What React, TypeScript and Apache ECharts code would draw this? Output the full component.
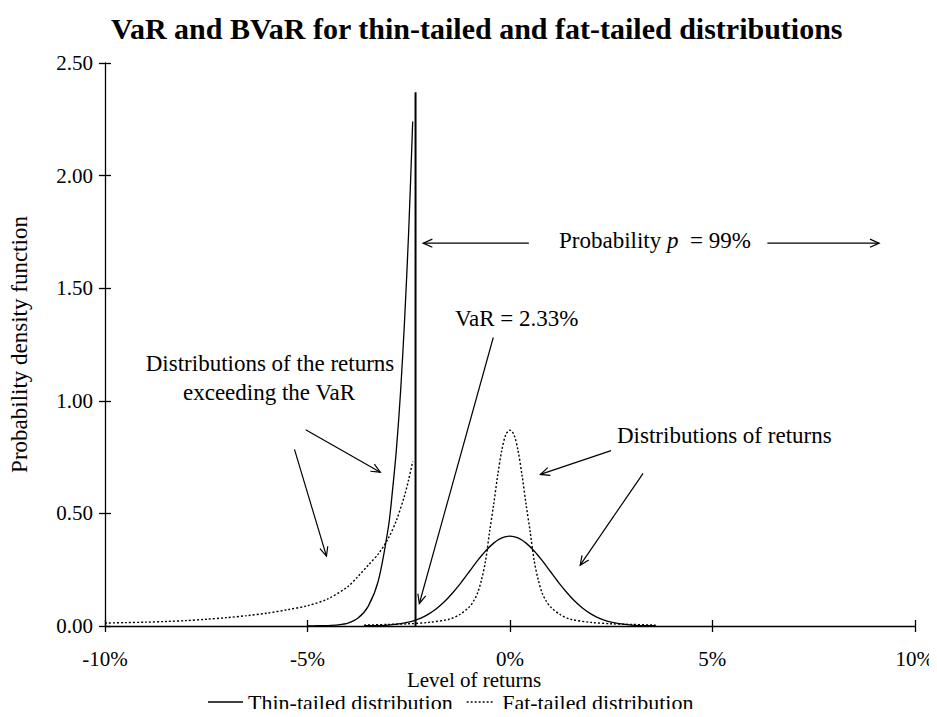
import React, { useEffect, useRef } from "react";
import * as echarts from "echarts";

// ---------- data (returns in %, density) ----------
const xTickValues = [-10, -5, 0, 5, 10];
const yTickValues = [0, 0.5, 1, 1.5, 2, 2.5];

// thin-tailed distribution of returns
const thinX = [-3.6, -3.4, -3.2, -3, -2.8, -2.6, -2.4, -2.2, -2, -1.8, -1.6, -1.4, -1.2, -1, -0.8, -0.6, -0.4, -0.2, 0,
  0.2, 0.4, 0.6, 0.8, 1, 1.2, 1.4, 1.6, 1.8, 2, 2.2, 2.4, 2.6, 2.8, 3, 3.2, 3.4, 3.6];
const thinY = [0.001, 0.001, 0.002, 0.004, 0.008, 0.014, 0.022, 0.035, 0.054, 0.079, 0.111, 0.15, 0.194, 0.242, 0.29, 0.333, 0.368, 0.391, 0.399,
  0.391, 0.368, 0.333, 0.29, 0.242, 0.194, 0.15, 0.111, 0.079, 0.054, 0.035, 0.022, 0.014, 0.008, 0.004, 0.002, 0.001, 0.001];

// thin-tailed: distribution of the returns exceeding the VaR
const thinTailX = [-5, -4.75, -4.5, -4.25, -4, -3.75, -3.5, -3.25, -3, -2.9, -2.8, -2.7, -2.6, -2.5, -2.4];
const thinTailY = [0, 0.001, 0.002, 0.005, 0.013, 0.035, 0.087, 0.2, 0.44, 0.6, 0.79, 1.04, 1.36, 1.75, 2.24];

// fat-tailed distribution of returns
const fatX = [-3.6, -3, -2.5, -2, -1.5, -1.25, -1, -0.9, -0.8, -0.7, -0.6, -0.5, -0.4, -0.3, -0.2, -0.1, 0,
  0.1, 0.2, 0.3, 0.4, 0.5, 0.6, 0.7, 0.8, 0.9, 1, 1.25, 1.5, 2, 2.5, 3, 3.6];
const fatY = [0.004, 0.007, 0.01, 0.016, 0.03, 0.05, 0.085, 0.11, 0.145, 0.205, 0.29, 0.42, 0.54, 0.67, 0.78, 0.85, 0.87,
  0.85, 0.78, 0.67, 0.54, 0.42, 0.29, 0.205, 0.145, 0.11, 0.085, 0.05, 0.03, 0.016, 0.01, 0.007, 0.004];

// fat-tailed: distribution of the returns exceeding the VaR
const fatTailX = [-10, -9.5, -9, -8.5, -8, -7.5, -7, -6.5, -6, -5.5, -5, -4.5, -4, -3.75, -3.5, -3.25, -3, -2.8, -2.6, -2.5, -2.4];
const fatTailY = [0.013, 0.015, 0.017, 0.02, 0.024, 0.03, 0.037, 0.046, 0.057, 0.072, 0.09, 0.12, 0.175, 0.22, 0.27, 0.32, 0.39, 0.47, 0.58, 0.65, 0.73];

// VaR level
const varX = [-2.33, -2.33];
const varY = [0, 2.37];

// annotation arrows [x1, y1, x2, y2] in data units (arrow head at x2, y2)
const arrows = [
  [0.47, 1.7, -2.14, 1.7],
  [6.36, 1.7, 9.12, 1.7],
  [-0.41, 1.281, -2.236, 0.1],
  [-5.044, 0.871, -3.2, 0.683],
  [-5.32, 0.784, -4.53, 0.31],
  [2.5, 0.779, 0.754, 0.673],
  [3.29, 0.678, 1.737, 0.27],
];

const THIN = "Thin-tailed distribution";
const FAT = "Fat-tailed distribution";
const FONT = "Liberation Serif, serif";
const DOTS_ICON = "path://M0 0h2.4v2h-2.4zM5 0h2.4v2h-2.4zM10 0h2.4v2h-2.4zM15 0h2.4v2h-2.4zM20 0h2.4v2h-2.4zM25 0h2.4v2h-2.4zM30 0h2.4v2h-2.4z";

const pairs = (xs: number[], ys: number[]) => xs.map((x, i) => [x, ys[i]]);

export default function App() {
  const ref = useRef<HTMLDivElement>(null);
  useEffect(() => {
    if (!ref.current) return;
    const chart = echarts.init(ref.current, undefined, { renderer: "svg" });
    const solid = { color: "#000", width: 1.3, type: "solid" as const };
    const dotted = { color: "#000", width: 1.4, type: [2, 2] as any };
    const textStyle = { fontFamily: FONT, fontSize: 23, color: "#000" };
    const txt = (text: string, x: number, y: number, align = "left", size = 23) => ({
      type: "text",
      x,
      y,
      style: { text, font: `${size}px ${FONT}`, fill: "#000", align, verticalAlign: "middle" },
    });
    const option: any = {
      animation: false,
      backgroundColor: "#fff",
      color: ["#000"],
      title: {
        text: "VaR and BVaR for thin-tailed and fat-tailed distributions",
        left: 106,
        top: 8,
        textStyle: { fontFamily: FONT, fontSize: 30, fontWeight: "bold", color: "#000" },
      },
      legend: {
        data: [
          { name: THIN, icon: "rect" },
          { name: FAT, icon: DOTS_ICON },
        ],
        top: 691,
        left: 208,
        padding: 0,
        itemWidth: 35,
        itemHeight: 1.6,
        itemGap: 14,
        textStyle: { ...textStyle, fontSize: 22, lineHeight: 22 },
      },
      grid: { left: 104, right: 19, top: 63, bottom: 91, containLabel: false },
      xAxis: [
        {
          type: "value",
          min: -10,
          max: 10,
          interval: 5,
          axisLine: { show: true, onZero: false, lineStyle: { color: "#000", width: 1.3 } },
          axisTick: { show: true, length: 6, lineStyle: { color: "#000", width: 1.3 } },
          axisLabel: {
            margin: 22,
            fontFamily: FONT,
            fontSize: 21,
            color: "#000",
            formatter: (v: number) => (xTickValues.includes(v) ? `${v}%` : ""),
          },
          splitLine: { show: false },
        },
        {
          type: "value",
          min: -10,
          max: 10,
          interval: 5,
          position: "bottom",
          axisLine: { show: false, onZero: false },
          axisTick: { show: true, inside: true, length: 6, lineStyle: { color: "#000", width: 1.3 } },
          axisLabel: { show: false },
          splitLine: { show: false },
        },
      ],
      yAxis: [
        {
          type: "value",
          min: 0,
          max: 2.5,
          interval: 0.5,
          name: "Probability density function",
          nameLocation: "middle",
          nameGap: 74,
          nameTextStyle: textStyle,
          axisLine: { show: true, onZero: false, lineStyle: { color: "#000", width: 1.3 } },
          axisTick: { show: true, length: 6, lineStyle: { color: "#000", width: 1.3 } },
          axisLabel: {
            margin: 12,
            fontFamily: FONT,
            fontSize: 21,
            color: "#000",
            formatter: (v: number) => (yTickValues.includes(v) ? v.toFixed(2) : ""),
          },
          splitLine: { show: false },
        },
        {
          type: "value",
          min: 0,
          max: 2.5,
          interval: 0.5,
          position: "left",
          axisLine: { show: false, onZero: false },
          axisTick: { show: true, inside: true, length: 6, lineStyle: { color: "#000", width: 1.3 } },
          axisLabel: { show: false },
          splitLine: { show: false },
        },
      ],
      series: [
        { name: THIN, type: "line", data: pairs(thinX, thinY), symbol: "none", smooth: 0.3, lineStyle: solid, itemStyle: { color: "#000" } },
        { name: FAT, type: "line", data: pairs(fatX, fatY), symbol: "none", smooth: 0.3, lineStyle: dotted, itemStyle: { color: "#000" } },
        { name: THIN, type: "line", data: pairs(thinTailX, thinTailY), symbol: "none", smooth: 0.3, lineStyle: solid, itemStyle: { color: "#000" } },
        { name: FAT, type: "line", data: pairs(fatTailX, fatTailY), symbol: "none", smooth: 0.3, lineStyle: dotted, itemStyle: { color: "#000" } },
        { name: "VaR", type: "line", data: pairs(varX, varY), symbol: "none", lineStyle: { color: "#000", width: 2 }, itemStyle: { color: "#000" } },
        {
          name: "annotations",
          type: "custom",
          silent: true,
          data: arrows,
          encode: { x: [0, 2], y: [1, 3] },
          renderItem: (_params: any, api: any) => {
            const p1 = api.coord([api.value(0), api.value(1)]);
            const p2 = api.coord([api.value(2), api.value(3)]);
            const ang = Math.atan2(p2[1] - p1[1], p2[0] - p1[0]);
            const L = 10;
            const a = 0.42;
            const h1 = [p2[0] - L * Math.cos(ang - a), p2[1] - L * Math.sin(ang - a)];
            const h2 = [p2[0] - L * Math.cos(ang + a), p2[1] - L * Math.sin(ang + a)];
            return {
              type: "group",
              children: [
                { type: "line", shape: { x1: p1[0], y1: p1[1], x2: p2[0], y2: p2[1] }, style: { stroke: "#000", lineWidth: 1.2 } },
                { type: "polyline", shape: { points: [h1, p2, h2] }, style: { stroke: "#000", fill: null, lineWidth: 1.2 } },
              ],
            };
          },
        },
      ],
      graphic: [
        {
          type: "text",
          x: 559,
          y: 240,
          style: {
            text: "Probability {i|p}  = 99%",
            rich: { i: { fontStyle: "italic", fontFamily: FONT, fontSize: 23, fill: "#000" } },
            font: `23px ${FONT}`,
            fill: "#000",
            align: "left",
            verticalAlign: "middle",
          },
        },
        txt("VaR = 2.33%", 455, 318),
        txt("Distributions of the returns", 270, 363, "center"),
        txt("exceeding the VaR", 269, 392, "center"),
        txt("Distributions of returns", 617, 435),
        txt("Level of returns", 474, 680, "center", 21),
      ],
    };
    chart.setOption(option);
    return () => chart.dispose();
  }, []);
  return <div ref={ref} style={{ width: 937, height: 717, margin: -8, background: "#fff" }} />;
}
